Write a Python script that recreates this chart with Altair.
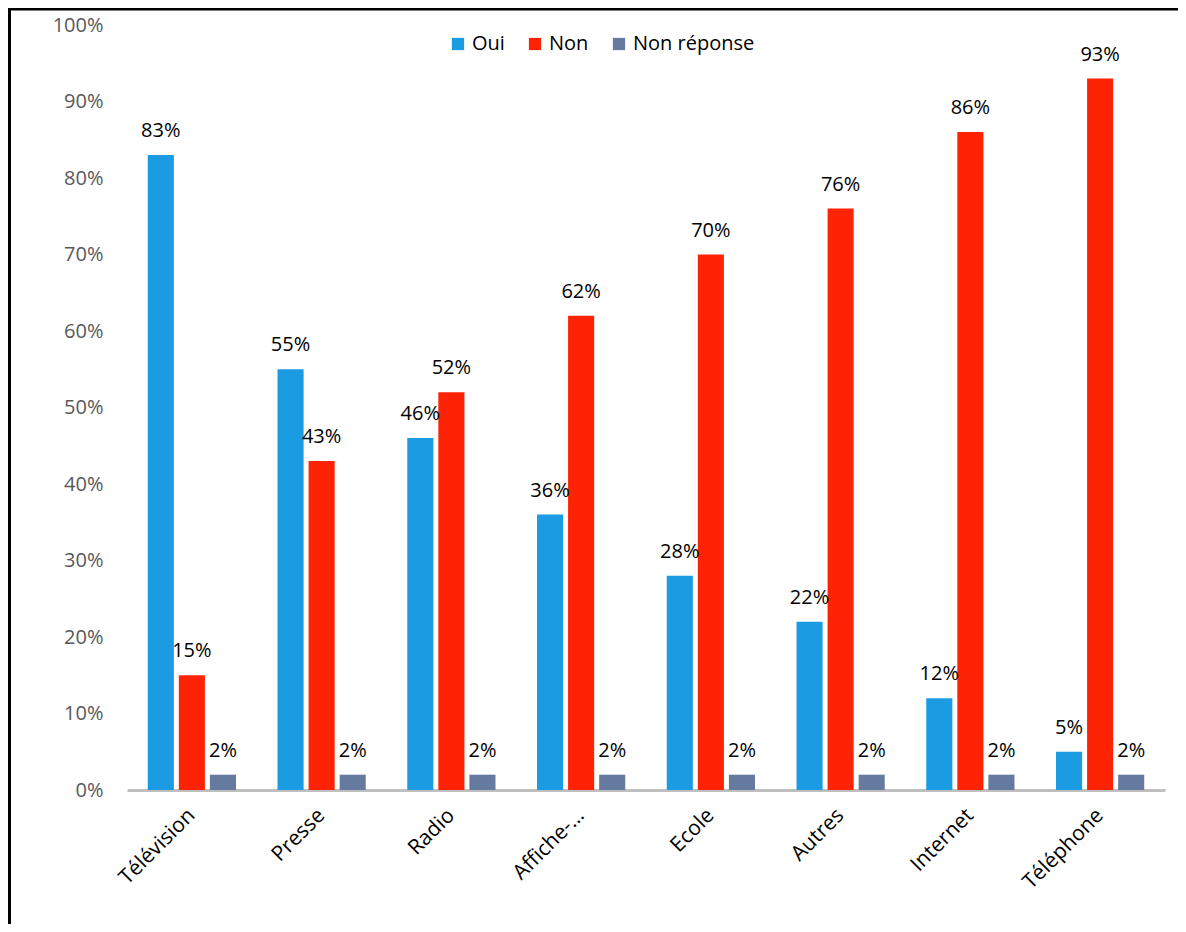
import altair as alt
import pandas as pd

categories = ["Télévision", "Presse", "Radio", "Affiche-…", "Ecole", "Autres", "Internet", "Téléphone"]
series = ["Oui", "Non", "Non réponse"]
oui = [83, 55, 46, 36, 28, 22, 12, 5]
non = [15, 43, 52, 62, 70, 76, 86, 93]
non_reponse = [2, 2, 2, 2, 2, 2, 2, 2]
colors = ["#1a9be2", "#ff2306", "#667a9f"]
y_ticks = [0, 10, 20, 30, 40, 50, 60, 70, 80, 90, 100]

rows = []
for s, vals in zip(series, [oui, non, non_reponse]):
    for c, v in zip(categories, vals):
        rows.append({"cat": c, "series": s, "value": v})
df = pd.DataFrame(rows)

W, H = 1038, 765
FONT = "Open Sans"

base = alt.Chart(df).encode(
    x=alt.X("cat:N", sort=categories,
            scale=alt.Scale(paddingInner=0.32, paddingOuter=0.16),
            axis=alt.Axis(title=None, labelAngle=-45, labelAlign="right",
                          labelBaseline="middle", labelFontSize=21,
                          labelColor="black", labelPadding=22, ticks=False,
                          domainColor="#bfbfbf", domainWidth=3, labelFont=FONT)),
    xOffset=alt.XOffset("series:N", sort=series,
                        scale=alt.Scale(paddingInner=0.16)),
)

bars = base.mark_bar().encode(
    y=alt.Y("value:Q", scale=alt.Scale(domain=[0, 100], nice=False),
            axis=alt.Axis(title=None, values=y_ticks,
                          labelExpr="datum.value + '%'", grid=False,
                          domain=False, ticks=False, labelFontSize=20,
                          labelColor="#595959", labelPadding=24,
                          labelFont=FONT)),
    color=alt.Color("series:N", sort=series,
                    scale=alt.Scale(domain=series, range=colors),
                    legend=alt.Legend(title=None, orient="none", legendX=321,
                                      legendY=9, direction="horizontal",
                                      symbolType="square", symbolSize=150,
                                      labelFontSize=20, labelColor="black",
                                      columnPadding=20, symbolStrokeWidth=0,
                                      labelOffset=4, labelFont=FONT)),
)

labels = base.mark_text(dy=-24, fontSize=20, color="black",
                        baseline="middle", font=FONT).encode(
    y=alt.Y("value:Q"),
    text=alt.Text("label:N"),
).transform_calculate(label="datum.value + '%'")

frame_df = pd.DataFrame({"a": [0]})
left_line = alt.Chart(frame_df).mark_rule(color="black", strokeWidth=3).encode(
    x=alt.value(-117.5), y=alt.value(-20), y2=alt.value(H + 134))
top_line = alt.Chart(frame_df).mark_rule(color="black", strokeWidth=3).encode(
    y=alt.value(-16), x=alt.value(-120), x2=alt.value(W + 13))

chart = alt.layer(bars, labels, left_line, top_line).properties(
    width=W, height=H,
    autosize=alt.AutoSizeParams(type="none"),
    padding={"left": 119, "top": 17, "right": 13, "bottom": 134},
).configure(font=FONT).configure_view(stroke=None)

chart.save("out.html", embed_options={"renderer": "svg", "actions": False})
